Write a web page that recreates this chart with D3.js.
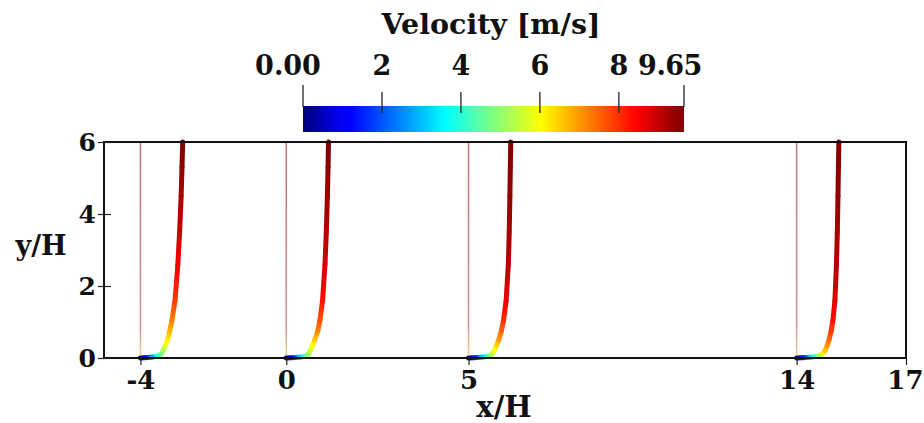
<!DOCTYPE html>
<html>
<head>
<meta charset="utf-8">
<script src="https://cdn.jsdelivr.net/npm/d3@7"></script>
<style>
  html, body { margin: 0; padding: 0; background: #fff; }
  svg { display: block; }
  text { font-family: "DejaVu Serif", serif; font-weight: bold; fill: #111; }
</style>
</head>
<body>
<svg id="chart" width="924" height="423"></svg>
<script>
// Measurement stations (x/H) and the heights (y/H) sampled at each one
const stations = [-4, 0, 5, 14];
const heights = [0, 0.02, 0.05, 0.1, 0.2, 0.35, 0.5, 0.75, 1.05, 1.6, 2.6, 3.5, 4.5, 5.3, 6.0];

// Streamwise velocity [m/s] at each height, one array per station
const uStationM4 = [0, 2.5, 3.8, 4.6, 5.2, 5.7, 6.2, 6.7, 7.2, 7.9, 8.55, 8.95, 9.3, 9.5, 9.65];
const uStation0  = [0, 3.0, 4.4, 5.0, 5.5, 6.0, 6.5, 7.2, 7.7, 8.3, 8.85, 9.15, 9.4, 9.55, 9.65];
const uStation5  = [0, 3.0, 4.6, 5.3, 5.9, 6.4, 6.9, 7.5, 8.0, 8.6, 9.1, 9.3, 9.45, 9.55, 9.65];
const uStation14 = [0, 3.2, 4.9, 5.7, 6.5, 7.0, 7.4, 7.9, 8.3, 8.75, 9.1, 9.3, 9.45, 9.55, 9.65];
const profiles = [uStationM4, uStation0, uStation5, uStation14];

// Axis ticks
const xTicks = [-4, 0, 5, 14, 17];
const yTicks = [0, 2, 4, 6];
const colorTicks = [0, 2, 4, 6, 8, 9.65];
const colorTickLabels = ["0.00", "2", "4", "6", "8", "9.65"];
const uMin = 0, uMax = 9.65;

// Velocity offset per m/s when a profile is laid over the x/H axis
const profileScale = 0.12;

const svg = d3.select("#chart");

const x = d3.scaleLinear().domain([-5, 17]).range([104, 906]);
const y = d3.scaleLinear().domain([0, 6]).range([358, 142]);
const cbar = d3.scaleLinear().domain([uMin, uMax]).range([303, 684]);

// Jet colour map
const jetStops = [
  [0.0, "#00007f"], [0.11, "#0000ff"], [0.125, "#0000ff"], [0.375, "#00ffff"],
  [0.625, "#ffff00"], [0.875, "#ff0000"], [1.0, "#7f0000"]
];
const jetScale = d3.scaleLinear()
  .domain(jetStops.map(d => d[0]))
  .range(jetStops.map(d => d[1]))
  .interpolate(d3.interpolateRgb)
  .clamp(true);
const color = u => jetScale((u - uMin) / (uMax - uMin));

const defs = svg.append("defs");

// ---- Colour bar ----
const cbGrad = defs.append("linearGradient").attr("id", "cbGrad")
  .attr("x1", "0%").attr("x2", "100%").attr("y1", "0%").attr("y2", "0%");
d3.range(0, 1.0001, 0.025).forEach(t => {
  cbGrad.append("stop").attr("offset", (t * 100) + "%").attr("stop-color", jetScale(t));
});
const cbTop = 106, cbH = 26;
svg.append("rect")
  .attr("x", cbar(uMin)).attr("y", cbTop)
  .attr("width", cbar(uMax) - cbar(uMin)).attr("height", cbH)
  .attr("fill", "url(#cbGrad)");

const cbTickG = svg.append("g");
colorTicks.forEach((v, i) => {
  const isEnd = (i === 0 || i === colorTicks.length - 1);
  cbTickG.append("line")
    .attr("x1", cbar(v)).attr("x2", cbar(v))
    .attr("y1", isEnd ? 85 : 92).attr("y2", isEnd ? 107 : 113)
    .attr("stroke", "#222").attr("stroke-width", 1.3);
  let lx = cbar(v);
  if (i === 0) lx -= 15;
  if (i === colorTicks.length - 1) lx -= 14;
  cbTickG.append("text")
    .attr("x", lx).attr("y", 75)
    .attr("text-anchor", "middle")
    .attr("font-size", 27)
    .attr("letter-spacing", i === colorTicks.length - 1 ? -0.5 : 0)
    .text(colorTickLabels[i]);
});
svg.append("text")
  .attr("x", 491).attr("y", 34)
  .attr("text-anchor", "middle")
  .attr("font-size", 28.5)
  .text("Velocity [m/s]");

// ---- Station reference lines ----
const refGrad = defs.append("linearGradient").attr("id", "refGrad")
  .attr("gradientUnits", "userSpaceOnUse")
  .attr("x1", 0).attr("x2", 0).attr("y1", y(0)).attr("y2", y(6));
[[0, "#ffe070"], [0.05, "#ecc08a"], [0.15, "#cf8f8f"], [1, "#bd7474"]].forEach(s => {
  refGrad.append("stop").attr("offset", s[0]).attr("stop-color", s[1]);
});
svg.append("g").selectAll("line").data(stations).join("line")
  .attr("x1", d => x(d)).attr("x2", d => x(d))
  .attr("y1", y(0)).attr("y2", y(6))
  .attr("stroke", "url(#refGrad)").attr("stroke-width", 1.5);

// ---- Velocity profiles coloured by velocity ----
const profG = svg.append("g");
let gid = 0;
stations.forEach((x0, si) => {
  const u = profiles[si];
  for (let i = 0; i < heights.length - 1; i++) {
    const px1 = x(x0 + u[i] * profileScale), py1 = y(heights[i]);
    const px2 = x(x0 + u[i + 1] * profileScale), py2 = y(heights[i + 1]);
    const id = "seg" + (gid++);
    const g = defs.append("linearGradient").attr("id", id)
      .attr("gradientUnits", "userSpaceOnUse")
      .attr("x1", px1).attr("y1", py1).attr("x2", px2).attr("y2", py2);
    [0, 0.25, 0.5, 0.75, 1].forEach(t => {
      g.append("stop").attr("offset", t)
        .attr("stop-color", color(u[i] + t * (u[i + 1] - u[i])));
    });
    profG.append("line")
      .attr("x1", px1).attr("y1", py1).attr("x2", px2).attr("y2", py2)
      .attr("stroke", `url(#${id})`)
      .attr("stroke-width", 5)
      .attr("stroke-linecap", "round");
  }
});

// ---- Frame and axes ----
svg.append("rect")
  .attr("x", x(-5)).attr("y", y(6))
  .attr("width", x(17) - x(-5)).attr("height", y(0) - y(6))
  .attr("fill", "none").attr("stroke", "#111").attr("stroke-width", 2);

const xAxis = svg.append("g")
  .attr("transform", `translate(0,${y(0)})`)
  .call(d3.axisBottom(x).tickValues(xTicks).tickSize(7).tickPadding(6).tickFormat(d3.format("d")));
xAxis.select(".domain").remove();
xAxis.selectAll(".tick line").attr("stroke", "#222").attr("stroke-width", 1.2);
xAxis.selectAll(".tick text")
  .attr("font-size", 26).attr("font-family", "DejaVu Serif, serif")
  .attr("font-weight", "bold").attr("fill", "#111").attr("dy", "0.71em")
  .attr("text-anchor", d => d === 17 ? "end" : "middle")
  .attr("x", d => d === 17 ? 17 : 0)
  .text(d => d < 0 ? "-" + Math.abs(d) : d);

const yAxis = svg.append("g")
  .attr("transform", `translate(${x(-5)},0)`)
  .call(d3.axisLeft(y).tickValues(yTicks).tickSize(6).tickPadding(2).tickFormat(d3.format("d")));
yAxis.select(".domain").remove();
yAxis.selectAll(".tick line").attr("x1", 7).attr("stroke", "#222").attr("stroke-width", 1.2);
yAxis.selectAll(".tick text")
  .attr("font-size", 25).attr("font-family", "DejaVu Serif, serif")
  .attr("font-weight", "bold").attr("fill", "#111");

svg.append("text")
  .attr("x", 41).attr("y", 255)
  .attr("text-anchor", "middle").attr("font-size", 27)
  .text("y/H");
svg.append("text")
  .attr("x", 504).attr("y", 417)
  .attr("text-anchor", "middle").attr("font-size", 29)
  .text("x/H");
</script>
</body>
</html>
